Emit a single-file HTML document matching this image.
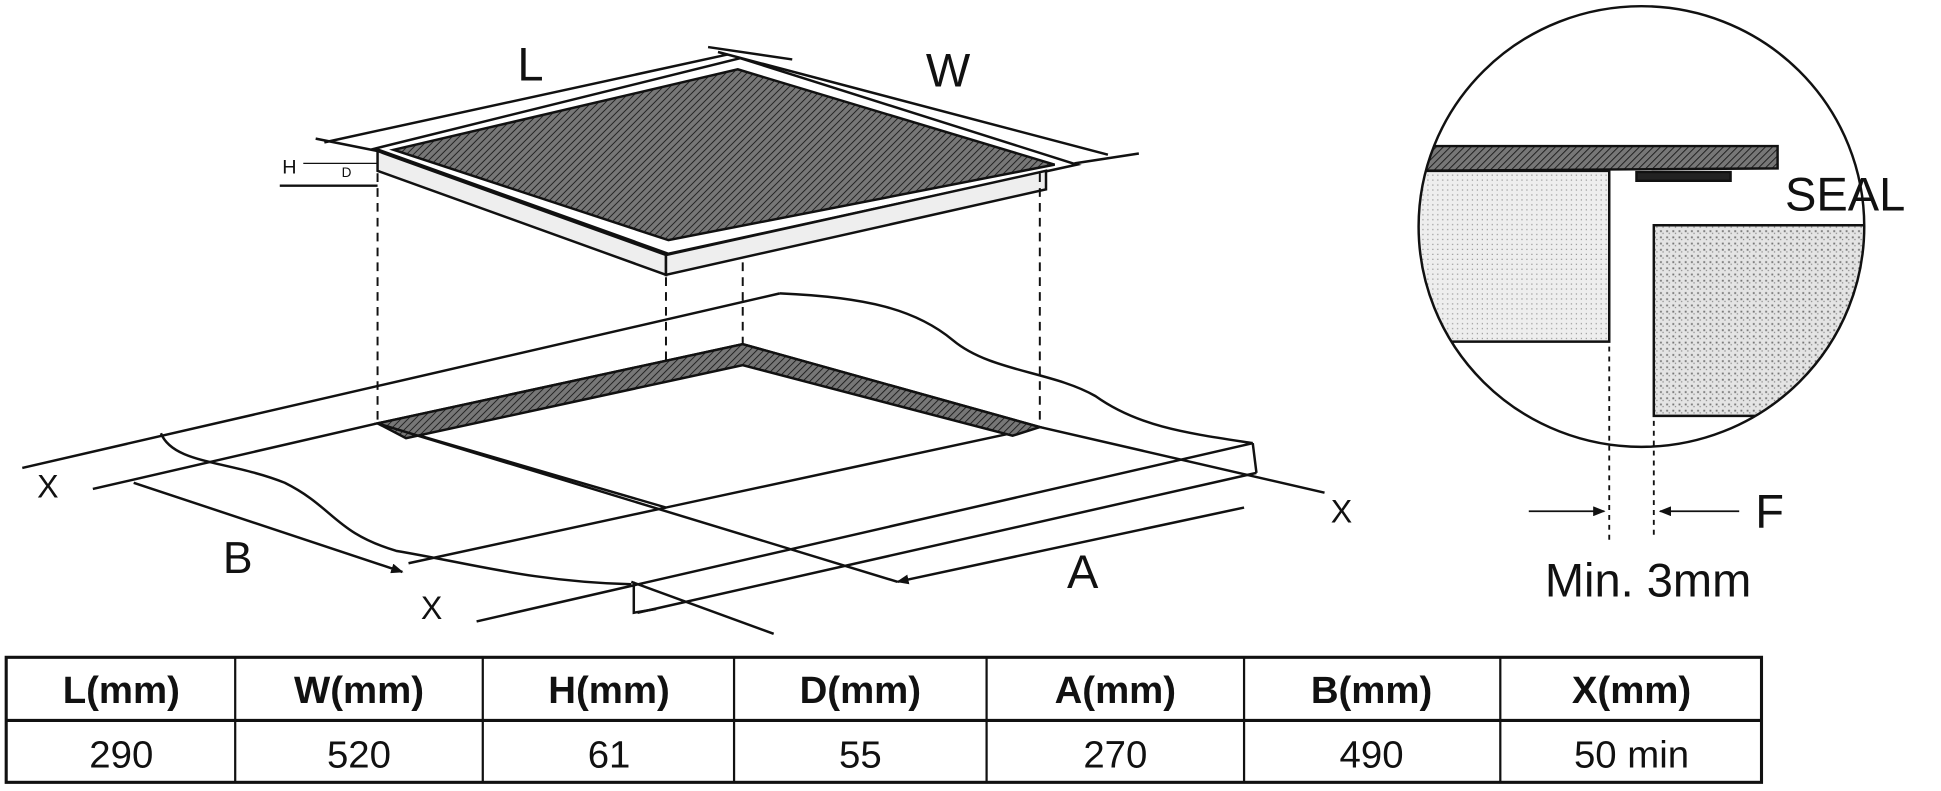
<!DOCTYPE html>
<html><head><meta charset="utf-8"><style>
html,body{margin:0;padding:0;background:#fff;}
svg{display:block}
text{font-family:"Liberation Sans",sans-serif;fill:#111}
</style></head><body>
<svg width="1941" height="791" viewBox="0 0 1568 639" xmlns="http://www.w3.org/2000/svg">
<defs>
<pattern id="h" width="4" height="4" patternUnits="userSpaceOnUse" patternTransform="rotate(45)">
<rect width="4" height="4" fill="#777"/><line x1="0" y1="0" x2="0" y2="4" stroke="#222" stroke-width="1.6"/></pattern>
<pattern id="dots" width="4" height="4" patternUnits="userSpaceOnUse"><rect width="4" height="4" fill="#eee"/><rect x="1" y="1" width="1" height="1" fill="#999"/></pattern>
<pattern id="dots2" width="5" height="5" patternUnits="userSpaceOnUse"><rect width="5" height="5" fill="#e4e4e4"/><rect x="1" y="1" width="1.5" height="1.5" fill="#777"/><rect x="3" y="3" width="1" height="1" fill="#888"/></pattern>
<marker id="ar" markerWidth="10" markerHeight="8" refX="9" refY="4" orient="auto" markerUnits="userSpaceOnUse"><path d="M0,0 L10,4 L0,8 z" fill="#111"/></marker>
<clipPath id="cc"><ellipse cx="1326" cy="183" rx="180" ry="178"/></clipPath>
</defs>
<g stroke="#111" fill="none" stroke-width="2">
<!-- hob -->
<path d="M303,120 L598,47 L870,133 L540,205 Z" fill="#fff"/>
<path d="M305,122 L305,138 L538,222 L538,206 Z" fill="#eee"/>
<path d="M538,206 L538,222 L845,153 L845,138 Z" fill="#eee"/>
<path d="M318,121 L596,56 L852,133 L540,194 Z" fill="url(#h)"/>
<!-- L/W dims -->
<line x1="262" y1="115" x2="588" y2="44"/><line x1="580" y1="42" x2="895" y2="125"/>
<line x1="255" y1="112" x2="305" y2="122"/><line x1="572" y1="38" x2="640" y2="48"/>
<line x1="868" y1="132" x2="920" y2="124"/>
<line x1="226" y1="150" x2="305" y2="150"/><line x1="245" y1="132" x2="305" y2="132" stroke-width="1"/>
<!-- dashed -->
<g stroke-dasharray="7,5" stroke-width="1.6">
<line x1="305" y1="140" x2="305" y2="340"/><line x1="538" y1="224" x2="538" y2="410"/>
<line x1="600" y1="212" x2="600" y2="298"/><line x1="840" y1="140" x2="840" y2="340"/></g>
<!-- counter -->
<line x1="18" y1="378" x2="630" y2="237"/>
<path d="M630,237 C700,240 740,250 770,275 C800,300 850,300 885,320 C920,345 960,350 1012,358"/>
<path d="M130,350 C140,375 185,372 230,390 C270,410 270,430 320,445 C380,455 430,470 510,472"/>
<path d="M305,342 L600,278 L840,345 L538,410 Z" fill="#fff"/>
<path d="M305,342 L600,278 L840,345 L818,352 L600,295 L328,354 Z" fill="url(#h)"/>
<line x1="75" y1="395" x2="305" y2="342"/>
<line x1="840" y1="345" x2="1070" y2="398"/>
<line x1="305" y1="342" x2="725" y2="470"/>
<line x1="538" y1="410" x2="330" y2="455"/>
<line x1="385" y1="502" x2="1012" y2="358"/>
<line x1="515" y1="495" x2="1015" y2="382"/>
<line x1="1012" y1="358" x2="1015" y2="382"/>
<path d="M512,470 L512,495 L530,492"/>
<line x1="510" y1="470" x2="625" y2="512"/>
<line x1="108" y1="390" x2="325" y2="462" marker-end="url(#ar)"/>
<line x1="1005" y1="410" x2="725" y2="470" marker-end="url(#ar)"/>
<!-- circle detail -->
<g clip-path="url(#cc)">
<path d="M1140,118 L1436,118 L1436,136 L1140,138 Z" fill="url(#h)"/>
<path d="M1322,139 L1398,139 L1398,146 L1322,146 Z" fill="#222"/>
<path d="M1130,138 L1300,138 L1300,276 L1130,276 Z" fill="url(#dots)"/>
<path d="M1336,182 L1520,182 L1520,336 L1336,336 Z" fill="url(#dots2)"/>
</g>
<ellipse cx="1326" cy="183" rx="180" ry="178" stroke-width="2"/>
<g stroke-dasharray="4,4" stroke-width="1.5"><line x1="1300" y1="280" x2="1300" y2="436"/><line x1="1336" y1="340" x2="1336" y2="436"/></g>
<line x1="1235" y1="413" x2="1296" y2="413" stroke-width="1.5" marker-end="url(#ar)"/>
<line x1="1405" y1="413" x2="1341" y2="413" stroke-width="1.5" marker-end="url(#ar)"/>
<!-- table -->
<rect x="5" y="531" width="1418" height="101" stroke-width="2.5" fill="#fff"/>
<line x1="5" y1="582" x2="1423" y2="582" stroke-width="2.5"/>
<g stroke-width="1.8"><line x1="190" y1="531" x2="190" y2="632"/><line x1="390" y1="531" x2="390" y2="632"/><line x1="593" y1="531" x2="593" y2="632"/><line x1="797" y1="531" x2="797" y2="632"/><line x1="1005" y1="531" x2="1005" y2="632"/><line x1="1212" y1="531" x2="1212" y2="632"/></g>
</g>
<text x="418" y="65" font-size="38">L</text>
<text x="748" y="70" font-size="38">W</text>
<text x="228" y="140" font-size="16">H</text>
<text x="276" y="143" font-size="11">D</text>
<text x="30" y="402" font-size="26">X</text>
<text x="180" y="463" font-size="36">B</text>
<text x="340" y="500" font-size="26">X</text>
<text x="862" y="475" font-size="38">A</text>
<text x="1075" y="422" font-size="26">X</text>
<text x="1442" y="170" font-size="38">SEAL</text>
<text x="1418" y="426" font-size="38">F</text>
<text x="1248" y="482" font-size="38">Min. 3mm</text>
<g font-size="31" text-anchor="middle" font-weight="bold">
<text x="98" y="568">L(mm)</text><text x="290" y="568">W(mm)</text><text x="492" y="568">H(mm)</text><text x="695" y="568">D(mm)</text><text x="901" y="568">A(mm)</text><text x="1108" y="568">B(mm)</text><text x="1318" y="568">X(mm)</text></g>
<g font-size="31" text-anchor="middle">
<text x="98" y="620">290</text><text x="290" y="620">520</text><text x="492" y="620">61</text><text x="695" y="620">55</text><text x="901" y="620">270</text><text x="1108" y="620">490</text><text x="1318" y="620">50 min</text></g>
</svg>
</body></html>
